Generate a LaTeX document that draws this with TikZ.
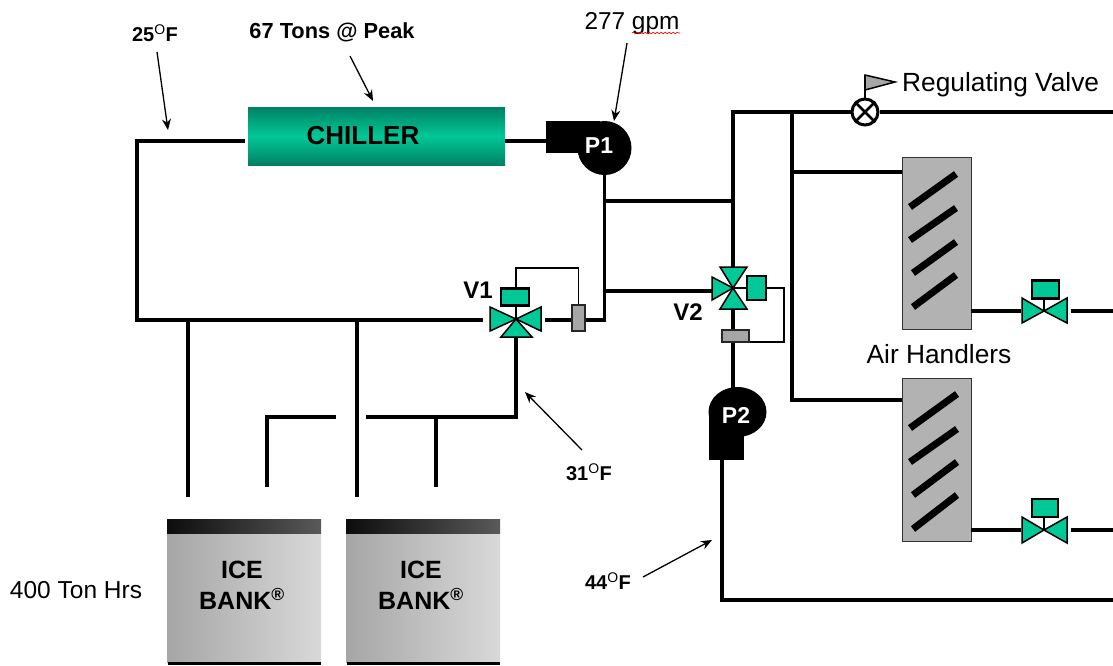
\documentclass[tikz,border=0pt]{standalone}
\usepackage{fontspec}
\setmainfont{Liberation Sans}
\usepackage{xcolor}
\usetikzlibrary{positioning,arrows.meta,decorations.pathmorphing}
\definecolor{chilldark}{RGB}{0,128,100}
\definecolor{valvegreen}{RGB}{0,200,150}

\begin{document}
\begin{tikzpicture}[
    x=1pt, y=-1pt,
    pipe/.style={line width=3.6pt, line join=miter},
    sensline/.style={line width=1.8pt},
    callout/.style={-{Stealth[length=11pt,width=9pt]}, line width=1.3pt},
    label/.style={inner sep=0pt, font=\fontsize{26.3}{30}\selectfont},
    temp/.style={inner sep=0pt, font=\bfseries\fontsize{20}{24}\selectfont},
    tag/.style={inner sep=0pt, font=\bfseries\fontsize{24}{28}\selectfont},
    chillerbox/.style={inner sep=0pt, minimum width=257pt, minimum height=58pt, top color=chilldark, bottom color=chilldark, middle color=valvegreen, font=\bfseries\fontsize{26}{30}\selectfont},
    pumpvolute/.style={circle, fill=black, inner sep=0pt},
    pumpoutlet/.style={fill=black, inner sep=0pt},
    pumptext/.style={inner sep=0pt, text=white, font=\bfseries\fontsize{23}{27}\selectfont},
    coil/.style={draw=black!80, line width=1pt, fill=black!30, inner sep=0pt, minimum width=69pt, minimum height=163pt},
    coilbar/.style={line width=7pt},
    actuator/.style={draw, line width=2.6pt, fill=valvegreen, inner sep=0pt},
    sensor/.style={draw=black!85, line width=1.8pt, fill=black!35, inner sep=0pt},
    valvetri/.style={draw, line width=1.5pt, fill=valvegreen, line join=miter},
    banktop/.style={inner sep=0pt, minimum width=154pt, minimum height=14pt, left color=black!95, right color=black!65},
    bankbody/.style={inner sep=0pt, minimum width=154pt, minimum height=129pt, left color=black!35, middle color=black!20, right color=black!15},
    banktext/.style={inner sep=0pt, align=center, font=\bfseries\fontsize{25}{31}\selectfont},
    bankfoot/.style={fill=black, inner sep=0pt, minimum width=153pt, minimum height=3pt}
]
\useasboundingbox (0,0) rectangle (1113,665);

% texts
\node[temp] (t25) at (155,33) {25\textsuperscript{\mdseries O}F};
\node[temp, font=\bfseries\fontsize{21.8}{24}\selectfont] (peak) at (332,32) {67 Tons @ Peak};
\node[label, font=\fontsize{24.4}{28}\selectfont] (gpm) at (632,24) {277 gpm};
\node[label, anchor=west] (regtext) at (902,85) {Regulating Valve};
\node[label] (airtext) at (939,354) {Air Handlers};
\node[label, font=\fontsize{24.5}{28}\selectfont] (hours) at (76,590) {400 Ton Hrs};
\node[temp] (t31) at (589,472) {31\textsuperscript{\mdseries O}F};
\node[temp] (t44) at (608,581) {44\textsuperscript{\mdseries O}F};
\node[tag] (v1text) at (478,290) {V1};
\node[tag] (v2text) at (688,312) {V2};

% chiller and pumps
\node[chillerbox] (chiller) at (376.5,136) {\hspace*{-27pt}CHILLER};
\node[pumpoutlet, minimum width=54pt, minimum height=32pt] (p1out) at (573,137) {};
\node[pumpvolute, minimum size=54pt] (p1) at (604.5,148) {};
\node[pumptext] (p1text) at (599,146) {P1};
\node[pumpoutlet, minimum width=35pt, minimum height=48pt] (p2out) at (726.5,436) {};
\node[pumpvolute, minimum size=50pt, xscale=1.16] (p2) at (737.5,412) {};
\node[pumptext] (p2text) at (736,415) {P2};

% air handlers
\node[coil, minimum height=172pt] (coila) at (936.5,243) {};
\node[coil] (coilb) at (936.5,459.5) {};
\draw[coilbar] (910,207) -- (956,174);
\draw[coilbar] (910,240) -- (956,208);
\draw[coilbar] (913,273) -- (956,242);
\draw[coilbar] (913,307) -- (956,275);
\draw[coilbar] (910,428) -- (957,394);
\draw[coilbar] (910,462) -- (957,429);
\draw[coilbar] (913,495) -- (957,462);
\draw[coilbar] (913,529) -- (957,495);

% regulating valve
\node[circle, draw, line width=3pt, fill=white, inner sep=0pt, minimum size=26pt] (reg) at (865,112) {};
\draw[line width=2.6pt] (reg.45) -- (reg.225);
\draw[line width=2.6pt] (reg.135) -- (reg.315);
\coordinate (flagtop) at (865,75);
\draw[line width=2pt] (reg.north) -- (flagtop);
\draw[line width=1.5pt, fill=black!35] (flagtop) -- (895,82) -- (865,90) -- cycle;

% three way valves
\coordinate (v1) at (516,319);
\coordinate (v2) at (733,288);
\coordinate (va) at (1044,311);
\coordinate (vb) at (1044,530);
\node[actuator, minimum width=28pt, minimum height=17pt] (v1act) at (515,297) {};
\node[actuator, minimum width=19pt, minimum height=24pt] (v2act) at (756.5,288) {};
\node[actuator, minimum width=27pt, minimum height=18pt] (vaact) at (1045.5,289.5) {};
\node[actuator, minimum width=26pt, minimum height=18pt] (vbact) at (1045,508) {};
\draw[line width=2pt] (v1 |- v1act.south) -- (v1);
\draw[line width=2pt] (v2act) -- (v2);
\draw[line width=2pt] (va |- vaact.south) -- (va);
\draw[line width=2pt] (vb |- vbact.south) -- (vb);
\draw[valvetri] (v1) -- ++(-26,-12) -- ++(0,24) -- cycle;
\draw[valvetri] (v1) -- ++(25,-12) -- ++(0,24) -- cycle;
\draw[valvetri] (v1) -- ++(-15,18) -- ++(31,0) -- cycle;
\draw[valvetri] (v2) -- ++(-13,-21) -- ++(27,0) -- cycle;
\draw[valvetri] (v2) -- ++(-13,21) -- ++(27,0) -- cycle;
\draw[valvetri] (v2) -- ++(-21,-11) -- ++(0,23) -- cycle;
\draw[valvetri] (va) -- ++(-22,-13) -- ++(0,25) -- cycle;
\draw[valvetri] (va) -- ++(23,-13) -- ++(0,25) -- cycle;
\draw[valvetri] (vb) -- ++(-22,-13) -- ++(0,26) -- cycle;
\draw[valvetri] (vb) -- ++(23,-13) -- ++(0,26) -- cycle;

% pipes
\coordinate (chillin) at (245,141);
\coordinate (chillout) at (505,141);
\coordinate (loopcorner) at (137,141);
\coordinate (v1west) at (483,320);
\coordinate (v1east) at (545,320);
\coordinate (v1south) at (516,337);
\coordinate (mainjoin) at (604.5,320);
\coordinate (topleft) at (733,112);
\draw[pipe] (chillin) -- (loopcorner) |- (v1west);
\draw[pipe] (chillout) -- (p1out.west |- chillout);
\draw[pipe] (p1.south) -- (mainjoin) -- (v1east);
\draw[pipe] (604.5,201) -- (733,201);
\draw[pipe] (604.5,291) -- (712,291);
\draw[pipe] (733,267) -- (topleft) -- (reg.west);
\draw[pipe] (reg.east) -- (1113,112);
\draw[pipe] (792,112) -- (792,400) -- (coilb.west |- 0,400);
\draw[pipe] (792,172) -- (coila.west |- 0,172);
\draw[pipe] (733,309) -- (733,390);
\draw[pipe] (722,460) -- (722,600) -- (1113,600);
\draw[pipe] (971,311) -- (1021,311);
\draw[pipe] (1071,311) -- (1113,311);
\draw[pipe] (971,530) -- (1021,530);
\draw[pipe] (1071,530) -- (1113,530);

% ice banks
\node[bankbody] (banka) at (244,597.5) {};
\node[banktext] (bankatext) at (242,585) {ICE\\BANK\textsuperscript{\textregistered}};
\node[banktop] (bankatop) at (244,526) {};
\node[bankfoot] (bankafoot) at (244.5,663.5) {};
\node[bankbody] (bankb) at (423,597.5) {};
\node[banktext] (bankbtext) at (421,585) {ICE\\BANK\textsuperscript{\textregistered}};
\node[banktop] (bankbtop) at (423,526) {};
\node[bankfoot] (bankbfoot) at (423.5,663.5) {};

\draw[pipe] (188,320) -- (188,497);
\draw[pipe] (357,320) -- (357,497);
\draw[pipe] (267,487) -- (267,417) -- (336,417);
\draw[pipe] (366,417) -- (516,417) -- (v1south);
\draw[pipe] (436,417) -- (436,487);

% sensing lines
\node[sensor, minimum width=13pt, minimum height=26pt] (s1) at (578.5,318) {};
\node[sensor, minimum width=27pt, minimum height=12pt] (s2) at (735.5,336) {};
\draw[sensline] (v1 |- v1act.north) -- (516,268) -- (578.5,268) -- (s1.north);
\draw[sensline] (v2act.east) -- (784,288) -- (784,342) -- (s2.east |- 0,342);

% callouts
\draw[callout] (157,52) -- (168,130);
\draw[callout] (350,56) -- (373,101);
\draw[callout] (627,43) -- (614,121);
\draw[callout] (582,450) -- (525,392);
\draw[callout] (643,577) -- (712,540);
\draw[red, line width=.6pt, decorate, decoration={snake, amplitude=.8pt, segment length=4pt}] (632,33) -- (680,33);
\end{tikzpicture}
\end{document}
